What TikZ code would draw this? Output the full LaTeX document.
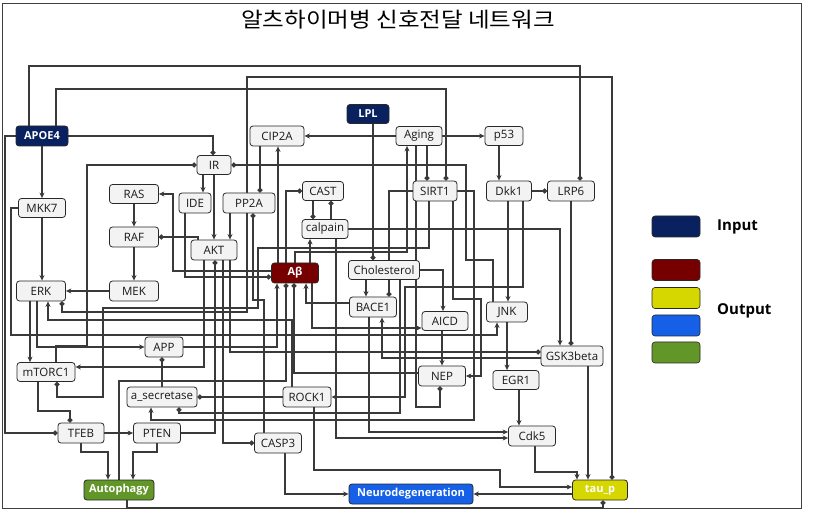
\documentclass[tikz,border=0pt]{standalone}
\usepackage{fontspec}
\setmainfont{Open Sans}
\newfontfamily\krfont{Noto Sans CJK KR}
\usetikzlibrary{arrows.meta}
\pgfdeclarelayer{bg}
\pgfsetlayers{bg,main}
\definecolor{cnavy}{RGB}{10,33,95}
\definecolor{cred}{RGB}{118,0,0}
\definecolor{cyellow}{RGB}{214,214,0}
\definecolor{cblue}{RGB}{22,96,232}
\definecolor{cgreen}{RGB}{98,150,40}
\definecolor{cfill}{RGB}{243,243,243}
\definecolor{cedge}{RGB}{40,40,40}
\definecolor{cline}{RGB}{58,58,58}
\tikzset{
 box/.style={draw=cedge, fill=cfill, rounded corners=3pt, line width=0.8pt, inner sep=1pt,
   font=\fontsize{11.5}{13}\selectfont, text=black!90},
 colbox/.style={box, text=white, font=\bfseries\fontsize{11}{13}\selectfont},
 legbox/.style={draw=cedge, rounded corners=3pt, line width=0.6pt, minimum width=48pt, minimum height=21pt},
 legtext/.style={anchor=west, font=\bfseries\fontsize{15}{17}\selectfont, inner sep=0pt},
 wire/.style={draw=cline, line width=1.4pt},
 act/.style={wire, -{Stealth[length=5.5pt,width=5pt]}},
 inh/.style={wire, -{Circle[length=5pt]}},
}
\begin{document}
\begin{tikzpicture}[x=1pt,y=-1pt]
\useasboundingbox (0,0) rectangle (814,518);
\begin{pgfonlayer}{bg}
\fill[white] (0,0) rectangle (814,518);
\draw[line width=0.9pt, black!75] (2,3) rectangle (801,508);
\end{pgfonlayer}
\node[font=\krfont\fontsize{21}{24}\selectfont, xscale=1.12] (title) at (398,20) {알츠하이머병 신호전달 네트워크};

% ---------- nodes ----------
\node[colbox, fill=cnavy, minimum width=52pt, minimum height=20pt] (APOE4) at (42,136) {APOE4};
\node[colbox, fill=cnavy, minimum width=42pt, minimum height=19pt] (LPL) at (368,114) {LPL};
\node[box, minimum width=54pt, minimum height=20pt] (CIP2A) at (277,136) {CIP2A};
\node[box, minimum width=46pt, minimum height=19pt] (Aging) at (419,136) {Aging};
\node[box, minimum width=38pt, minimum height=19pt] (p53) at (504,136) {p53};
\node[box, minimum width=34pt, minimum height=19pt] (IR) at (214,165) {IR};
\node[box, minimum width=44pt, minimum height=20pt] (SIRT1) at (435,191) {SIRT1};
\node[box, minimum width=45pt, minimum height=20pt] (Dkk1) at (509,191) {Dkk1};
\node[box, minimum width=47pt, minimum height=20pt] (LRP6) at (571,191) {LRP6};
\node[box, minimum width=41pt, minimum height=19pt] (CAST) at (323,191) {CAST};
\node[box, minimum width=46pt, minimum height=19pt] (calpain) at (325,229) {calpain};
\node[box, minimum width=47pt, minimum height=19pt] (MKK7) at (42,208) {MKK7};
\node[box, minimum width=49pt, minimum height=19pt] (RAS) at (134,194) {RAS};
\node[box, minimum width=32pt, minimum height=20pt] (IDE) at (195,203) {IDE};
\node[box, minimum width=52pt, minimum height=20pt] (PP2A) at (249,203) {PP2A};
\node[box, minimum width=49pt, minimum height=20pt] (RAF) at (134,237) {RAF};
\node[box, minimum width=46pt, minimum height=20pt] (AKT) at (214,250) {AKT};
\node[colbox, fill=cred, minimum width=47pt, minimum height=20pt] (Abeta) at (295,273) {Aβ};
\node[box, minimum width=71pt, minimum height=19pt] (Chol) at (384,270) {Cholesterol};
\node[box, minimum width=47pt, minimum height=20pt] (BACE1) at (373,307) {BACE1};
\node[box, minimum width=46pt, minimum height=19pt] (AICD) at (445,321) {AICD};
\node[box, minimum width=41pt, minimum height=20pt] (JNK) at (507,312) {JNK};
\node[box, minimum width=62pt, minimum height=20pt] (GSK3b) at (572,356) {GSK3beta};
\node[box, minimum width=47pt, minimum height=20pt] (NEP) at (442,376) {NEP};
\node[box, minimum width=46pt, minimum height=19pt] (EGR1) at (516,380) {EGR1};
\node[box, minimum width=49pt, minimum height=20pt] (ERK) at (41,291) {ERK};
\node[box, minimum width=49pt, minimum height=20pt] (MEK) at (134,291) {MEK};
\node[box, minimum width=38pt, minimum height=20pt] (APP) at (164,347) {APP};
\node[box, minimum width=58pt, minimum height=19pt] (mTORC1) at (46,372) {mTORC1};
\node[box, minimum width=70pt, minimum height=20pt] (asec) at (162,397) {a\_secretase};
\node[box, minimum width=48pt, minimum height=20pt] (ROCK1) at (307,397) {ROCK1};
\node[box, minimum width=46pt, minimum height=20pt] (TFEB) at (81,433) {TFEB};
\node[box, minimum width=47pt, minimum height=20pt] (PTEN) at (157,433) {PTEN};
\node[box, minimum width=47pt, minimum height=20pt] (CASP3) at (278,443) {CASP3};
\node[box, minimum width=47pt, minimum height=20pt] (Cdk5) at (532,436) {Cdk5};
\node[colbox, fill=cgreen, minimum width=70pt, minimum height=20pt] (Autophagy) at (119,490) {Autophagy};
\node[colbox, fill=cblue, minimum width=124pt, minimum height=20pt] (Neuro) at (411,494) {Neurodegeneration};
\node[colbox, fill=cyellow, minimum width=55pt, minimum height=20pt] (taup) at (600,490) {tau\_p};

% ---------- connectors (behind the nodes) ----------
\begin{pgfonlayer}{bg}
\draw[inh] ([xshift=-13pt]APOE4.north) |- (580,66) -- ([xshift=9pt]LRP6.north);
\draw[inh] ([xshift=14pt]APOE4.north) |- (446,89) -- ([xshift=11pt]SIRT1.north);
\draw[inh] ([xshift=-2pt]PP2A.north) |- (612,77) -- ([xshift=12pt]taup.north);
\draw[inh] (APOE4.west) -| (5,433) -- (TFEB.west);
\draw[inh] (APOE4.east) -| ([xshift=-1pt]IR.north);
\draw[act] (APOE4.south) -- (MKK7.north);
\draw[act] (Aging.west) -- (CIP2A.east);
\draw[act] (Aging.east) -- (p53.west);
\draw[act] ([xshift=-5pt]p53.south) -- ([xshift=-10pt]Dkk1.north);
\draw[inh] (Dkk1.east) -- (LRP6.west);
\draw[inh] ([xshift=8pt]Aging.south) -- ([xshift=-8pt]SIRT1.north);
\draw[inh] ([xshift=5pt]LPL.south) -- ([xshift=-11pt]Chol.north);
\draw[inh] ([xshift=-17pt]CIP2A.south) -- ([xshift=11pt]PP2A.north);
\draw[act] ([xshift=-17pt]Abeta.north) -- ([xshift=1pt]CIP2A.south);
\draw[act] ([xshift=-11pt]IR.south) -- ([xshift=8pt]IDE.north);
\draw[act] (IR.south) -- (AKT.north);
\draw[inh] ([xshift=10pt]mTORC1.north) |- (87,346) |- (IR.west);
\draw[inh] ([xshift=-14pt]JNK.north) |- (466,260) |- (IR.east);
\draw[act] (MKK7.south) -- ([xshift=1pt]ERK.north);
\draw[act] (MKK7.west) -| (11,335) -| ([xshift=-10pt]JNK.south);
\draw[act] (RAS.south) -- (RAF.north);
\draw[act] (RAF.south) -- (MEK.north);
\draw[act] (MEK.west) -- (ERK.east);
\draw[inh] ([xshift=-16pt]AKT.north) |- (RAF.east);
\draw[act] ([yshift=2pt]Abeta.west) -| (173,194) -- (RAS.east);
\draw[inh] ([xshift=-10pt]IDE.south) |- ([yshift=-4pt]Abeta.west);
\draw[act] ([xshift=-19pt]PP2A.south) -- ([xshift=16pt]AKT.north);
\draw[inh] ([xshift=-9pt]Abeta.north) |- (CAST.west);
\draw[inh] ([xshift=-10pt]CAST.south) -- ([xshift=-12pt]calpain.north);
\draw[inh] ([xshift=6pt]calpain.north) -- ([xshift=8pt]CAST.south);
\draw[act] ([xshift=15pt]Abeta.north) -- ([xshift=-15pt]calpain.south);
\draw[act] (calpain.east) -| ([xshift=-12pt]GSK3b.north);
\draw[inh] (LRP6.south) -- ([xshift=-1pt]GSK3b.north);
\draw[act] ([xshift=-1pt]Dkk1.south) -- ([xshift=1pt]JNK.north);
\draw[act] ([xshift=14pt]Dkk1.south) |- (405,287) |- (ROCK1.east);
\draw[inh] (SIRT1.west) -| ([xshift=16pt]BACE1.north);
\draw[act] ([xshift=-18pt]Chol.south) -- ([xshift=-7pt]BACE1.north);
\draw[act] (Chol.east) -| ([xshift=-2pt]AICD.north);
\draw[act] ([xshift=-3pt]AICD.south) -- (NEP.north);
\draw[inh] ([xshift=-3pt]Aging.south) |- (440,407) -- ([xshift=-2pt]NEP.south);
\draw[act] ([xshift=18pt]SIRT1.south) |- (481,299) |- (NEP.east);
\draw[act] (SIRT1.east) -| (474,420) -| ([xshift=-11pt]asec.south);
\draw[act] (Abeta.north) |- (407,252) -- ([xshift=-12pt]Aging.south);
\draw[inh] ([xshift=-6pt]SIRT1.south) |- (258,248) |- (103,308) |- (57,397) -- ([xshift=11pt]mTORC1.south);
\draw[act] ([xshift=-11pt]ERK.south) -- ([xshift=-16pt]mTORC1.north);
\draw[act] ([xshift=-4pt]ERK.south) |- (APP.west);
\draw[inh] ([xshift=-2pt]PP2A.south) |- (62,312) -- ([xshift=21pt]ERK.south);
\draw[act] ([xshift=-15pt]ROCK1.north) |- (48,320) -- ([xshift=7pt]ERK.south);
\draw[act] ([xshift=-10pt]AKT.south) |- ([yshift=5pt]mTORC1.east);
\draw[inh] (PTEN.east) -| ([xshift=1pt]AKT.south);
\draw[inh] ([xshift=9pt]AKT.south) |- (CASP3.west);
\draw[inh] ([xshift=16pt]AKT.south) |- ([yshift=4pt]GSK3b.west);
\draw[act] ([yshift=-2pt]GSK3b.west) -| ([xshift=9pt]BACE1.south);
\draw[act] ([yshift=4pt]BACE1.west) -| ([xshift=11pt]Abeta.south);
\draw[inh] ([yshift=3pt]NEP.west) -| ([xshift=-1pt]Abeta.south);
\draw[act] (APP.east) -| ([xshift=-18pt]Abeta.south);
\draw[inh] (Autophagy.north) |- (286,381) -- ([xshift=-9pt]Abeta.south);
\draw[act] ([xshift=17pt]Abeta.south) |- ([yshift=-7pt]AICD.west);
\draw[inh] (asec.north) -- ([xshift=-2pt]APP.south);
\draw[inh] (ROCK1.west) -- (asec.east);
\draw[inh] ([xshift=16pt]Chol.south) |- (179,413) -- ([xshift=17pt]asec.south);
\draw[act] ([xshift=11pt]calpain.south) |- ([yshift=-2pt]Cdk5.west);
\draw[act] ([xshift=-4pt]BACE1.south) |- ([yshift=4pt]Cdk5.west);
\draw[act] (JNK.south) -- ([xshift=-9pt]EGR1.north);
\draw[act] ([xshift=3pt]EGR1.south) -- ([xshift=-13pt]Cdk5.north);
\draw[act] ([xshift=3pt]Cdk5.south) |- (577,472) -- ([xshift=-23pt]taup.north);
\draw[act] ([xshift=16pt]GSK3b.south) -- ([xshift=-12pt]taup.north);
\draw[act] ([xshift=7pt]ROCK1.south) |- (500,470) |- ([yshift=3pt]taup.west);
\draw[act] ([xshift=7pt]CASP3.south) |- (Neuro.west);
\draw[act] ([yshift=-4pt]taup.west) -- (Neuro.east);
\draw[inh] ([xshift=8pt]Autophagy.south) |- (603,508) -- ([xshift=3pt]taup.south);
\draw[act] (TFEB.east) -- (PTEN.west);
\draw[act] (TFEB.south) |- (108,452) -- ([xshift=-11pt]Autophagy.north);
\draw[act] (PTEN.south) |- (133,452) -- ([xshift=14pt]Autophagy.north);
\draw[inh] ([xshift=-8pt]mTORC1.south) |- (70,411) -- ([xshift=-11pt]TFEB.north);
\draw[inh] ([xshift=-14pt]CASP3.north) -- (264,300) -| ([xshift=4pt]PP2A.south);
\end{pgfonlayer}

% ---------- legend ----------
\node[legbox, fill=cnavy] (lg1) at (676,226.5) {};
\node[legbox, fill=cred] (lg2) at (676,270) {};
\node[legbox, fill=cyellow] (lg3) at (676,298) {};
\node[legbox, fill=cblue] (lg4) at (676,325.5) {};
\node[legbox, fill=cgreen] (lg5) at (676,352.5) {};
\node[legtext] (lin) at (717,227) {Input};
\node[legtext] (lout) at (717,311) {Output};
\end{tikzpicture}
\end{document}
